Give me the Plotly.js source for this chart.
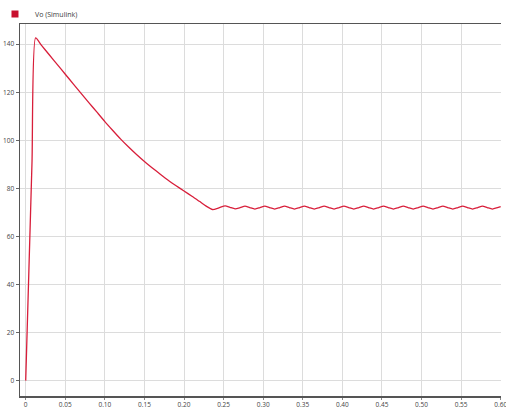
<!DOCTYPE html>
<html>
<head>
<meta charset="utf-8">
<script src="https://cdn.plot.ly/plotly-3.0.1.min.js"></script>
<style>html,body{margin:0;padding:0;background:#fff;}#chart{width:506px;height:409px;}</style>
</head>
<body>
<div id="chart"></div>
<script>
// Time (s) and output voltage Vo
const seriesName = "Vo (Simulink)";
const timeS = [0, 0.004, 0.008, 0.0125, 0.02, 0.03, 0.04, 0.05, 0.06, 0.07, 0.08, 0.09, 0.10,
  0.11, 0.12, 0.13, 0.14, 0.15, 0.16, 0.17, 0.18, 0.19, 0.20, 0.21, 0.22, 0.228, 0.236, 0.244,
  0.252, 0.258, 0.2645, 0.271, 0.277, 0.283, 0.2895, 0.296, 0.302, 0.308, 0.3145, 0.321,
  0.327, 0.333, 0.3395, 0.346, 0.352, 0.358, 0.3645, 0.371, 0.377, 0.383, 0.3895, 0.396,
  0.402, 0.408, 0.4145, 0.421, 0.427, 0.433, 0.4395, 0.446, 0.452, 0.458, 0.4645, 0.471,
  0.477, 0.483, 0.4895, 0.496, 0.502, 0.508, 0.5145, 0.521, 0.527, 0.533, 0.5395, 0.546,
  0.552, 0.558, 0.5645, 0.571, 0.577, 0.583, 0.5895, 0.596, 0.60];
const voltage = [0, 45.6, 91.3, 142.6, 139.5, 135.5, 131.5, 127.5, 123.5, 119.5, 115.6, 111.7, 107.8,
  104.1, 100.5, 97.2, 94.1, 91.2, 88.5, 85.9, 83.4, 81.1, 78.9, 76.7, 74.5, 72.6, 71.2, 71.9,
  72.7, 72.1, 71.5, 72.0, 72.6, 72.0, 71.4, 72.0, 72.6, 72.0, 71.4, 72.0,
  72.6, 72.0, 71.4, 72.0, 72.6, 72.0, 71.4, 72.0, 72.6, 72.0, 71.4, 72.0,
  72.6, 72.0, 71.4, 72.0, 72.6, 72.0, 71.4, 72.0, 72.6, 72.0, 71.4, 72.0,
  72.6, 72.0, 71.4, 72.0, 72.6, 72.0, 71.4, 72.0, 72.6, 72.0, 71.4, 72.0,
  72.6, 72.0, 71.4, 72.0, 72.6, 72.0, 71.4, 72.0, 72.4];
const xTickVals = [0, 0.05, 0.10, 0.15, 0.20, 0.25, 0.30, 0.35, 0.40, 0.45, 0.50, 0.55, 0.60];
const xTickText = ["0", "0.05", "0.10", "0.15", "0.20", "0.25", "0.30", "0.35", "0.40", "0.45", "0.50", "0.55", "0.60"];
const yTickVals = [0, 20, 40, 60, 80, 100, 120, 140];

const lineColor = "#d81e3a";
const trace = {
  x: timeS, y: voltage, type: "scatter", mode: "lines", name: seriesName, showlegend: false,
  line: {color: lineColor, width: 1.3, shape: "spline", smoothing: 0.6}
};
// legend-only entry with a square swatch, like the reference
const legendEntry = {
  x: [null], y: [null], type: "scatter", mode: "markers", name: seriesName, showlegend: true,
  marker: {symbol: "square", size: 7, color: "#c8102e"}
};
const layout = {
  width: 506, height: 409,
  margin: {l: 20, r: 5, t: 24, b: 13, pad: 0, autoexpand: false},
  paper_bgcolor: "#ffffff", plot_bgcolor: "#ffffff",
  font: {family: "Open Sans, sans-serif", size: 6.5, color: "#444"},
  showlegend: true,
  legend: {x: -0.052, y: 1.066, xanchor: "left", yanchor: "top", orientation: "h",
    font: {size: 7, color: "#3a3a3a"}, bgcolor: "rgba(0,0,0,0)", itemwidth: 30, tracegroupgap: 0},
  xaxis: {
    range: [-0.0072, 0.6004], tickvals: xTickVals, ticktext: xTickText,
    showgrid: true, gridcolor: "#dcdcdc", gridwidth: 1, zeroline: false,
    showline: true, linecolor: "#555", linewidth: 1.5, mirror: true,
    ticks: "outside", ticklen: 2, tickcolor: "#888", tickfont: {size: 6.5, color: "#444"},
    ticklabeloverflow: "allow", automargin: false
  },
  yaxis: {
    range: [-6.4, 148.4], tickvals: yTickVals, automargin: false,
    showgrid: true, gridcolor: "#dcdcdc", gridwidth: 1, zeroline: false,
    showline: true, linecolor: "#555", linewidth: 1.5,
    ticks: "outside", ticklen: 3, tickcolor: "#666", tickfont: {size: 6.5, color: "#444"}
  }
};
Plotly.newPlot("chart", [trace, legendEntry], layout, {displayModeBar: false, staticPlot: true});
</script>
</body>
</html>
